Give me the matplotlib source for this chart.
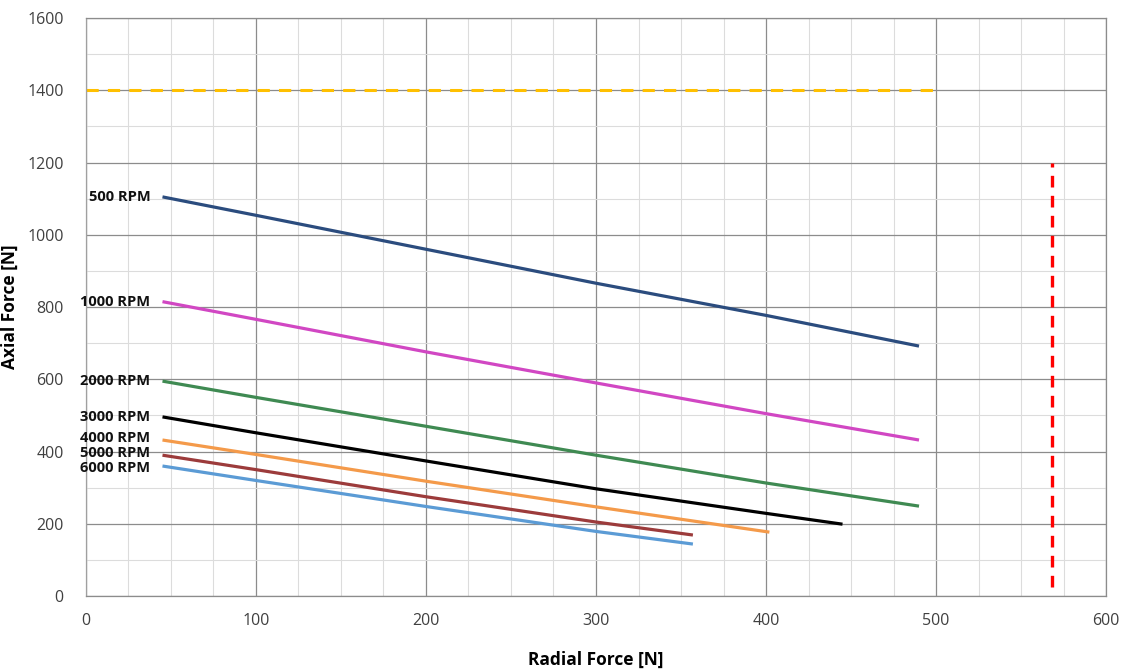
import matplotlib.pyplot as plt
from matplotlib.ticker import MultipleLocator

plt.rcParams['font.family'] = ['Open Sans', 'DejaVu Sans']

# Speed curves: radial force [N] vs axial force [N]
rpm_labels = ["500 RPM", "1000 RPM", "2000 RPM", "3000 RPM", "4000 RPM", "5000 RPM", "6000 RPM"]
label_y = [1105, 815, 595, 496, 438, 396, 354]
radial = [
    [45, 100, 200, 300, 400, 490],
    [45, 100, 200, 300, 400, 490],
    [45, 100, 200, 300, 400, 490],
    [45, 100, 200, 300, 400, 445],
    [45, 100, 200, 300, 402],
    [45, 100, 200, 300, 357],
    [45, 100, 200, 300, 357],
]
axial = [
    [1105, 1054, 960, 866, 777, 692],
    [815, 766, 676, 590, 505, 432],
    [595, 550, 470, 390, 313, 249],
    [496, 452, 374, 297, 229, 199],
    [432, 392, 318, 247, 177],
    [390, 350, 275, 205, 169],
    [360, 320, 248, 179, 144],
]
colors = ["#2b4c7e", "#d147c3", "#3f8a52", "#000000", "#f49a4a", "#9c3b3b", "#5b9bd5"]

# Limit lines
axial_limit = 1400
axial_limit_x = [0, 500]
radial_limit = 568
radial_limit_y = [25, 1200]

fig = plt.figure(figsize=(11.24, 6.69), dpi=100)
ax = fig.add_axes([0.0765, 0.109, 0.9075, 0.864])

for lbl, ly, xs, ys, c in zip(rpm_labels, label_y, radial, axial, colors):
    ax.plot(xs, ys, color=c, lw=2.3, solid_capstyle='butt')
    ax.text(xs[0] - 7, ly, lbl, ha='right', va='center', fontsize=10.5,
            fontweight='bold', color='#111111')

ax.plot(axial_limit_x, [axial_limit, axial_limit], color='#ffc000', lw=2.2,
        dashes=(4, 3))
ax.plot([radial_limit, radial_limit], radial_limit_y, color='#ff0000', lw=2.4,
        dashes=(3.5, 2.5))

ax.set_xlim(0, 600)
ax.set_ylim(0, 1600)
ax.xaxis.set_major_locator(MultipleLocator(100))
ax.xaxis.set_minor_locator(MultipleLocator(25))
ax.yaxis.set_major_locator(MultipleLocator(200))
ax.yaxis.set_minor_locator(MultipleLocator(100))
ax.grid(which='major', color='#8c8c8c', lw=0.9)
ax.grid(which='minor', color='#dcdcdc', lw=0.8)
ax.set_axisbelow(True)
ax.tick_params(which='both', length=0, labelsize=11.5, labelcolor='#404040')
ax.tick_params(axis='x', pad=12)
ax.tick_params(axis='y', pad=16)
for s in ax.spines.values():
    s.set_color('#8c8c8c')
    s.set_linewidth(0.9)
ax.spines['left'].set_color('#a0a0a0')

ax.set_xlabel('Radial Force [N]', fontsize=12.5, fontweight='bold', labelpad=16)
ax.set_ylabel('Axial Force [N]', fontsize=12.5, fontweight='bold', labelpad=6)

fig.savefig('out.png', dpi=100)
